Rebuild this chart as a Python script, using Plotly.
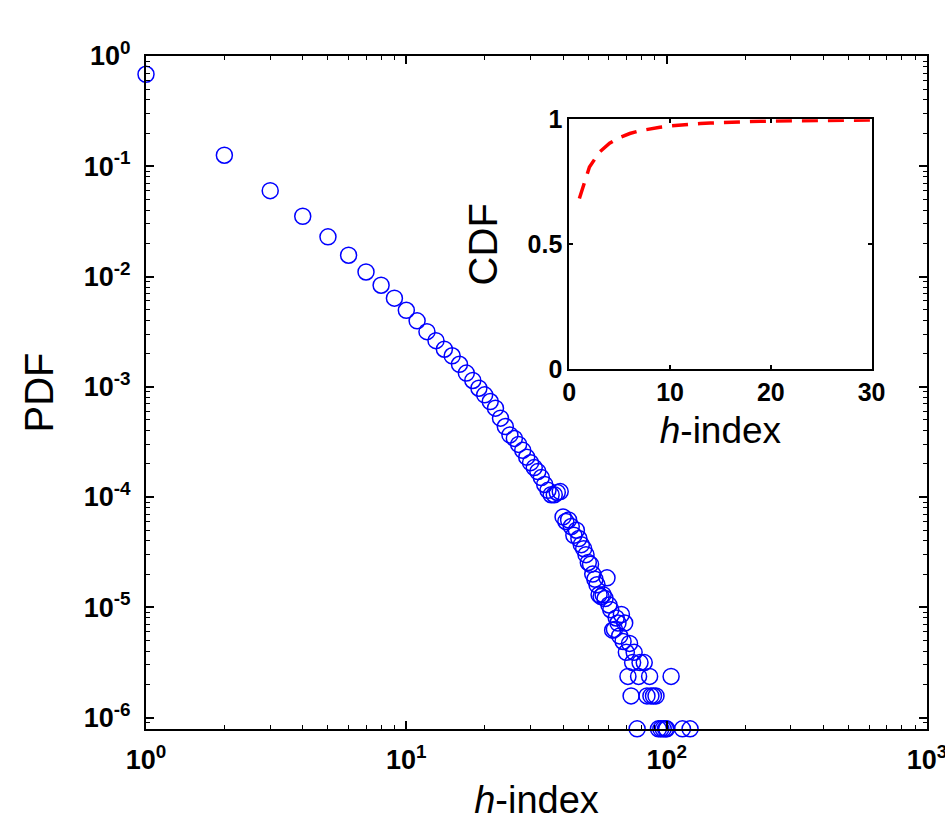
import plotly.graph_objects as go

# ---- main panel data (PDF of h-index) ----
h_vals = [1, 2, 3, 4, 5, 6, 7, 8, 9, 10,
          11, 12, 13, 14, 15, 16, 17, 18, 19, 20,
          21, 22, 23, 24, 25, 26, 27, 28, 29, 30,
          31, 32, 33, 34, 35, 36, 37, 38, 39, 40,
          41, 42, 43, 44, 45, 46, 47, 48, 49, 50,
          51, 52, 53, 54, 55, 56, 57, 58, 59, 60,
          61, 62, 63, 64, 65, 66, 67, 68, 69, 70,
          71, 72, 73, 74, 75, 77, 78, 79, 82, 84,
          86, 87, 89, 91, 93, 95, 97, 99, 100, 104,
          115, 123]
pdf_vals = [0.683, 0.126, 0.0601, 0.0352, 0.0229, 0.0156, 0.0110, 0.00834, 0.00636, 0.00494,
            0.00396, 0.00316, 0.00262, 0.00219, 0.00191, 0.00160, 0.00133, 0.00114, 0.00097, 0.000845,
            0.000735, 0.00064, 0.000519, 0.000436, 0.000366, 3.4e-4, 3.0e-4, 2.65e-4, 2.3e-4, 2.05e-4,
            1.85e-4, 1.7e-4, 1.5e-4, 1.3e-4, 1.15e-4, 1.05e-4, 1.05e-4, 1.1e-4, 1.12e-4, 6.6e-5,
            6.0e-5, 6.2e-5, 5.4e-5, 4.5e-5, 5.0e-5, 4.2e-5, 3.7e-5, 3.4e-5, 3.0e-5, 2.55e-5,
            2.45e-5, 2.0e-5, 1.8e-5, 1.6e-5, 1.3e-5, 1.25e-5, 1.3e-5, 1.2e-5, 1.85e-5, 1.05e-5,
            9.5e-6, 6.2e-6, 6.3e-6, 8.0e-6, 7.2e-6, 5.5e-6, 8.6e-6, 4.9e-6, 7.2e-6, 3.9e-6,
            2.36e-6, 4.7e-6, 1.57e-6, 3.15e-6, 3.9e-6, 7.9e-7, 2.36e-6, 3.15e-6, 3.15e-6, 1.57e-6,
            2.36e-6, 1.57e-6, 1.57e-6, 1.57e-6, 7.9e-7, 7.9e-7, 7.9e-7, 7.9e-7, 7.9e-7, 2.36e-6,
            7.9e-7, 7.9e-7]

# ---- inset data (CDF) ----
cdf_h = list(range(1, 31))
cdf_vals = [0.683, 0.809, 0.869, 0.904, 0.927, 0.943, 0.954, 0.962, 0.968, 0.973,
            0.977, 0.980, 0.983, 0.985, 0.987, 0.9886, 0.9899, 0.9911, 0.9921, 0.9929,
            0.9936, 0.9943, 0.9948, 0.9952, 0.9956, 0.9959, 0.9962, 0.9965, 0.9967, 0.9969]

x_exps_main = [0, 1, 2, 3]
y_exps_main = [-6, -5, -4, -3, -2, -1, 0]
inset_x_ticks = [0, 10, 20, 30]
inset_y_ticks = [0, 0.5, 1]
inset_y_text = ["0", "0.5", "1"]
minor_digits = [2, 3, 4, 5, 6, 7, 8, 9]

x_tickvals = [10.0 ** e for e in x_exps_main]
x_ticktext = ["10<sup>%d</sup>" % e for e in x_exps_main]
y_tickvals = [10.0 ** e for e in y_exps_main]
y_ticktext = ["10<sup>%d</sup>" % e for e in y_exps_main]
x_minor = [d * 10.0 ** e for e in x_exps_main[:-1] for d in minor_digits]
y_minor = [d * 10.0 ** e for e in [-7] + y_exps_main[:-1] for d in minor_digits]

FONT = "Liberation Sans, Arial, Helvetica, sans-serif"

fig = go.Figure()
fig.add_trace(go.Scatter(
    x=h_vals, y=pdf_vals, mode="markers", cliponaxis=False,
    marker=dict(symbol="circle-open", size=16, color="#0000ff",
                line=dict(width=1.5, color="#0000ff")),
    xaxis="x", yaxis="y", showlegend=False))
fig.add_trace(go.Scatter(
    x=cdf_h, y=cdf_vals, mode="lines",
    line=dict(color="#ff0000", width=3.5, dash="16px,10px"),
    xaxis="x2", yaxis="y2", showlegend=False))

axis_common = dict(showline=True, linecolor="black", linewidth=2, mirror="ticks",
                   ticks="inside", tickcolor="black", tickwidth=1.5,
                   showgrid=False, zeroline=False, automargin=False,
                   ticklabeloverflow="allow")

fig.update_layout(
    width=945, height=821,
    margin=dict(l=146, r=18, t=56, b=92),
    paper_bgcolor="white", plot_bgcolor="white",
    font=dict(family=FONT, color="black"),
    xaxis=dict(type="log", range=[0, 3], domain=[0, 1], anchor="y",
               tickvals=x_tickvals, ticktext=x_ticktext, ticklen=8,
               tickfont=dict(size=27, family=FONT, weight="bold"),
               ticklabelstandoff=6,
               minor=dict(tickvals=x_minor, ticks="inside", ticklen=4,
                          tickcolor="black", tickwidth=1, showgrid=False),
               title=dict(text="<i>h</i>-index", font=dict(size=38, family=FONT), standoff=12),
               **axis_common),
    yaxis=dict(type="log", range=[-6.104, 0], domain=[0, 1], anchor="x",
               tickvals=y_tickvals, ticktext=y_ticktext, ticklen=8,
               tickfont=dict(size=27, family=FONT, weight="bold"),
               minor=dict(tickvals=y_minor, ticks="inside", ticklen=4,
                          tickcolor="black", tickwidth=1, showgrid=False),
               ticklabelstandoff=8,
               title=dict(text="PDF", font=dict(size=40, family=FONT), standoff=18),
               **axis_common),
    xaxis2=dict(range=[0, 30], domain=[0.542, 0.929], anchor="y2",
                tickvals=inset_x_ticks, ticklen=4,
                tickfont=dict(size=25, family=FONT, weight="bold"),
                title=dict(text="<i>h</i>-index", font=dict(size=37, family=FONT), standoff=12),
                **axis_common),
    yaxis2=dict(range=[0, 1], domain=[0.5345, 0.906], anchor="x2",
                tickvals=inset_y_ticks, ticktext=inset_y_text, ticklen=4,
                tickfont=dict(size=25, family=FONT, weight="bold"),
                title=dict(text="CDF", font=dict(size=40, family=FONT), standoff=18),
                **axis_common),
)

fig.write_html("out.html")
